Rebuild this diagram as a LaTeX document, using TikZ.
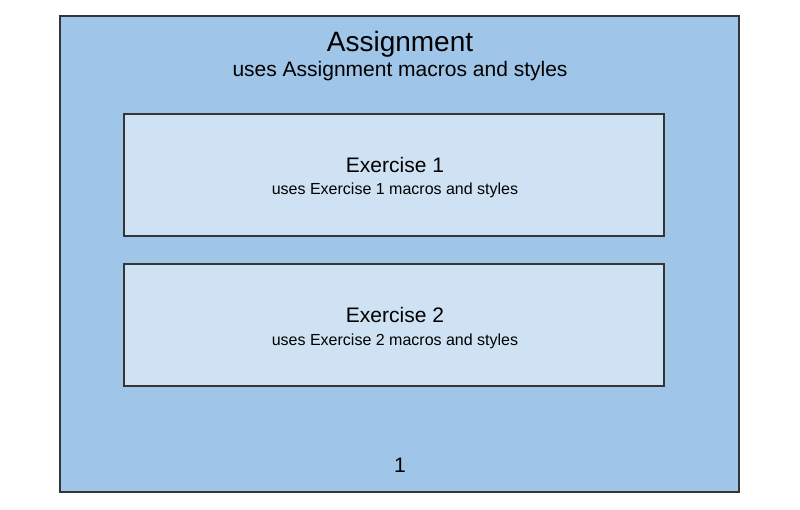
\documentclass[tikz,border=0pt]{standalone}
\usepackage{fontspec}
\setmainfont{Liberation Sans}
\definecolor{outerfill}{HTML}{9FC5E8}
\definecolor{innerfill}{HTML}{CFE2F3}
\definecolor{edge}{HTML}{353535}
\begin{document}
\begin{tikzpicture}[x=1pt,y=-1pt,
  box/.style={draw=edge,line width=1.2pt,rectangle,inner sep=0pt},
  outerbox/.style={box,fill=outerfill,minimum width=679pt,minimum height=476pt},
  innerbox/.style={box,fill=innerfill,minimum width=540pt,minimum height=122pt},
  txt/.style={anchor=base,inner sep=0pt,text=black}]
\useasboundingbox (0,0) rectangle (800,510);
\node[outerbox] (assign) at (399.5,254) {};
\node[innerbox] (ex1) at (394,175) {};
\node[innerbox] (ex2) at (394,325) {};
\node[txt,font=\fontsize{28}{32}\selectfont] (atitle) at (400,52) {Assignment};
\node[txt,font=\fontsize{21}{24}\selectfont] (asub) at (400,77) {uses Assignment macros and styles};
\node[txt,font=\fontsize{21}{24}\selectfont] (e1title) at (395,173) {Exercise 1};
\node[txt,font=\fontsize{16}{19}\selectfont] (e1sub) at (395,195) {uses Exercise 1 macros and styles};
\node[txt,font=\fontsize{21}{24}\selectfont] (e2title) at (395,323) {Exercise 2};
\node[txt,font=\fontsize{16}{19}\selectfont] (e2sub) at (395,345) {uses Exercise 2 macros and styles};
\node[txt,font=\fontsize{21}{24}\selectfont] (page) at (400,472) {1};
\end{tikzpicture}
\end{document}
